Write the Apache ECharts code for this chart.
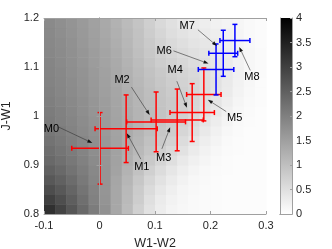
<!DOCTYPE html>
<html><head><meta charset="utf-8">
<script src="https://cdn.jsdelivr.net/npm/echarts@6/dist/echarts.min.js"></script>
<style>html,body{margin:0;padding:0;background:#fff}#c{width:332px;height:249px}</style>
</head><body><div id="c"></div>
<script>
// ---- data ----
const xTicks = [-0.1, 0, 0.1, 0.2, 0.3];
const yTicks = [0.8, 0.9, 1.0, 1.1, 1.2];
const cbTicks = [0, 0.5, 1, 1.5, 2, 2.5, 3, 3.5, 4];
const xTitle = 'W1-W2';
const yTitle = 'J-W1';

// background density (cell centres)
const cellX = [-0.09,-0.07,-0.05,-0.03,-0.01,0.01,0.03,0.05,0.07,0.09,0.11,0.13,0.15,0.17,0.19,0.21,0.23,0.25,0.27,0.29];
const cellY = [0.81,0.83,0.85,0.87,0.89,0.91,0.93,0.95,0.97,0.99,1.01,1.03,1.05,1.07,1.09,1.11,1.13,1.15,1.17,1.19];
const density = [
 [3.25,2.95,2.65,2.35,2.05,1.72,1.38,1.05,0.72,0.45,0.28,0.18,0.12,0.10,0.08,0.06,0.05,0.05,0.04,0.04],
 [3.00,2.78,2.52,2.26,1.98,1.68,1.38,1.08,0.78,0.50,0.32,0.20,0.14,0.10,0.08,0.06,0.05,0.05,0.04,0.04],
 [2.80,2.62,2.42,2.18,1.94,1.66,1.38,1.10,0.82,0.56,0.38,0.25,0.16,0.11,0.08,0.06,0.05,0.05,0.04,0.04],
 [2.62,2.48,2.30,2.10,1.90,1.66,1.40,1.14,0.88,0.64,0.45,0.32,0.20,0.13,0.09,0.07,0.05,0.05,0.04,0.04],
 [2.48,2.36,2.20,2.04,1.86,1.66,1.44,1.20,0.96,0.74,0.55,0.40,0.26,0.17,0.11,0.08,0.06,0.05,0.04,0.04],
 [2.36,2.25,2.12,1.98,1.82,1.65,1.46,1.25,1.04,0.84,0.66,0.50,0.35,0.23,0.15,0.10,0.07,0.05,0.04,0.04],
 [2.27,2.17,2.05,1.93,1.78,1.63,1.46,1.28,1.10,0.92,0.76,0.60,0.45,0.31,0.20,0.13,0.08,0.06,0.05,0.04],
 [2.20,2.10,1.99,1.88,1.75,1.61,1.46,1.30,1.14,0.98,0.84,0.70,0.55,0.40,0.27,0.17,0.10,0.07,0.05,0.04],
 [2.14,2.05,1.95,1.84,1.72,1.59,1.45,1.31,1.17,1.03,0.90,0.78,0.64,0.50,0.35,0.22,0.13,0.08,0.05,0.04],
 [2.09,2.00,1.91,1.81,1.70,1.57,1.44,1.31,1.18,1.05,0.93,0.82,0.71,0.58,0.43,0.29,0.17,0.10,0.06,0.05],
 [2.05,1.97,1.88,1.78,1.67,1.55,1.43,1.30,1.17,1.05,0.94,0.84,0.74,0.63,0.50,0.36,0.22,0.13,0.08,0.05],
 [2.01,1.93,1.85,1.75,1.65,1.53,1.41,1.28,1.16,1.04,0.93,0.84,0.75,0.65,0.54,0.41,0.27,0.16,0.09,0.06],
 [1.98,1.90,1.82,1.73,1.62,1.51,1.39,1.26,1.14,1.02,0.91,0.82,0.74,0.65,0.55,0.44,0.31,0.19,0.11,0.07],
 [1.95,1.88,1.80,1.71,1.60,1.49,1.37,1.24,1.11,0.99,0.88,0.79,0.71,0.63,0.54,0.45,0.33,0.21,0.12,0.07],
 [1.93,1.86,1.78,1.69,1.58,1.47,1.35,1.22,1.08,0.95,0.84,0.75,0.67,0.59,0.51,0.43,0.33,0.22,0.13,0.08],
 [1.91,1.84,1.76,1.67,1.56,1.45,1.33,1.19,1.05,0.91,0.79,0.70,0.62,0.54,0.47,0.40,0.31,0.21,0.13,0.08],
 [1.89,1.82,1.74,1.65,1.54,1.43,1.30,1.16,1.01,0.87,0.74,0.64,0.56,0.49,0.42,0.36,0.28,0.20,0.12,0.08],
 [1.87,1.80,1.72,1.62,1.51,1.40,1.27,1.13,0.98,0.83,0.69,0.58,0.50,0.43,0.37,0.31,0.25,0.18,0.11,0.07],
 [1.85,1.78,1.70,1.60,1.49,1.37,1.24,1.10,0.95,0.79,0.64,0.52,0.44,0.37,0.32,0.27,0.22,0.16,0.10,0.07],
 [1.83,1.76,1.68,1.58,1.47,1.35,1.21,1.07,0.92,0.75,0.60,0.48,0.38,0.31,0.26,0.22,0.18,0.14,0.09,0.06]
];

// error-bar points
const redNames = ['M0','M1','M2','M3','M4','M5'];
const redX     = [0.001, 0.048, 0.102, 0.140, 0.167, 0.188];
const redY     = [0.934, 0.974, 0.988, 0.992, 1.007, 1.044];
const redXErr  = [0.051, 0.056, 0.053, 0.047, 0.040, 0.031];
const redYErr  = [0.073, 0.069, 0.061, 0.063, 0.059, 0.054];
const blueNames = ['M6','M7','M8'];
const blueX     = [0.210, 0.223, 0.244];
const blueY     = [1.095, 1.128, 1.154];
const blueXErr  = [0.032, 0.026, 0.027];
const blueYErr  = [0.052, 0.047, 0.033];

// annotations (data coordinates)
const annNames = ['M0','M1','M2','M3','M4','M5','M6','M7','M8'];
const annTextX = [-0.0865, 0.0763, 0.0407, 0.1156, 0.1364, 0.2437, 0.1165, 0.1580, 0.2747];
const annTextY = [0.974, 0.897, 1.073, 0.914, 1.093, 0.996, 1.133, 1.184, 1.080];
const annFromX = [-0.0729, 0.0745, 0.0575, 0.1124, 0.1394, 0.2284, 0.1333, 0.1773, 0.2717];
const annFromY = [0.977, 0.912, 1.059, 0.933, 1.071, 1.009, 1.133, 1.176, 1.093];
const annToX   = [-0.0129, 0.0492, 0.0904, 0.1273, 0.1575, 0.1953, 0.1964, 0.2116, 0.2518];
const annToY   = [0.945, 0.965, 1.002, 0.977, 1.017, 1.033, 1.107, 1.143, 1.141];

// ---- build ----
const FONT = 'Liberation Sans, Arial, Helvetica, sans-serif';
const dx = cellX[1] - cellX[0], dy = cellY[1] - cellY[0];
const cellData = [];
density.forEach((row, j) => row.forEach((v, i) => cellData.push([cellX[i], cellY[j], v])));

function errBarSeries(xs, ys, exs, eys, color) {
  return {
    type: 'custom', xAxisIndex: 0, yAxisIndex: 0, z: 5, clip: false,
    data: xs.map((x, i) => [x, ys[i], exs[i], eys[i]]),
    encode: { x: 0, y: 1 },
    renderItem: (params, api) => {
      const x = api.value(0), y = api.value(1), ex = api.value(2), ey = api.value(3);
      const t = api.coord([x, y + ey]), b = api.coord([x, y - ey]);
      const l = api.coord([x - ex, y]), r = api.coord([x + ex, y]);
      const cap = 2.5;
      const st = { stroke: color, lineWidth: 1.5 };
      const ln = (x1, y1, x2, y2) => ({ type: 'line', shape: { x1, y1, x2, y2 }, style: st });
      return { type: 'group', children: [
        ln(t[0], t[1], b[0], b[1]),
        ln(t[0] - cap, t[1], t[0] + cap, t[1]),
        ln(b[0] - cap, b[1], b[0] + cap, b[1]),
        ln(l[0], l[1], r[0], r[1]),
        ln(l[0], l[1] - cap, l[0], l[1] + cap),
        ln(r[0], r[1] - cap, r[0], r[1] + cap)
      ]};
    }
  };
}

const annData = annNames.map((n, i) => [annTextX[i], annTextY[i], annFromX[i], annFromY[i], annToX[i], annToY[i]]);

const axLine = { show: true, lineStyle: { color: '#a0a0a0', width: 1 } };
const axTick = { show: true, inside: true, length: 3, lineStyle: { color: '#a0a0a0', width: 1 } };
const lab = { fontSize: 11, color: '#262626', fontFamily: FONT };

const option = {
  animation: false,
  backgroundColor: '#fff',
  textStyle: { fontFamily: FONT },
  grid: [
    { left: 44, top: 18, width: 222, height: 196, containLabel: false, outerBoundsMode: 'none' },
    { left: 280, top: 18, width: 12, height: 196, containLabel: false, outerBoundsMode: 'none' }
  ],
  visualMap: {
    type: 'continuous', show: false, min: 0, max: 4, dimension: 2, seriesIndex: 0,
    inRange: { color: ['#ffffff', '#000000'] }
  },
  xAxis: [
    { gridIndex: 0, type: 'value', position: 'bottom', min: xTicks[0], max: xTicks[xTicks.length-1], interval: 0.1,
      axisLine: axLine, axisTick: axTick, splitLine: { show: false }, z: 10,
      axisLabel: Object.assign({ margin: 6 }, lab),
      name: xTitle, nameLocation: 'middle', nameGap: 23,
      nameTextStyle: { fontSize: 12.5, color: '#262626', fontFamily: FONT } },
    { gridIndex: 0, type: 'value', position: 'top', min: xTicks[0], max: xTicks[xTicks.length-1], interval: 0.1,
      axisLine: axLine, axisTick: axTick, axisLabel: { show: false }, splitLine: { show: false }, z: 10 },
    { gridIndex: 1, type: 'category', data: ['c'], position: 'bottom', axisLine: axLine,
      axisTick: { show: false }, axisLabel: { show: false }, z: 10 },
    { gridIndex: 1, type: 'category', data: ['c'], position: 'top', axisLine: axLine,
      axisTick: { show: false }, axisLabel: { show: false }, z: 10 }
  ],
  yAxis: [
    { gridIndex: 0, type: 'value', position: 'left', min: yTicks[0], max: yTicks[yTicks.length-1], interval: 0.1,
      axisLine: axLine, axisTick: axTick, splitLine: { show: false }, z: 10,
      axisLabel: Object.assign({ margin: 5 }, lab),
      name: yTitle, nameLocation: 'middle', nameGap: 22, nameRotate: 90,
      nameTextStyle: { fontSize: 12.5, color: '#262626', fontFamily: FONT } },
    { gridIndex: 0, type: 'value', position: 'right', min: yTicks[0], max: yTicks[yTicks.length-1], interval: 0.1,
      axisLine: axLine, axisTick: axTick, axisLabel: { show: false }, splitLine: { show: false }, z: 10 },
    { gridIndex: 1, type: 'value', position: 'right', min: cbTicks[0], max: cbTicks[cbTicks.length-1], interval: 0.5,
      axisLine: axLine, axisTick: { show: true, inside: true, length: 2, lineStyle: { color: '#a0a0a0' } },
      axisLabel: Object.assign({ margin: 4 }, lab), splitLine: { show: false }, z: 10 },
    { gridIndex: 1, type: 'value', position: 'left', min: cbTicks[0], max: cbTicks[cbTicks.length-1], interval: 0.5,
      axisLine: axLine, axisTick: { show: false }, axisLabel: { show: false }, splitLine: { show: false }, z: 10 }
  ],
  series: [
    { type: 'custom', xAxisIndex: 0, yAxisIndex: 0, z: 1, data: cellData, encode: { x: 0, y: 1 },
      renderItem: (params, api) => {
        const x = api.value(0), y = api.value(1);
        const p0 = api.coord([x - dx / 2, y + dy / 2]);
        const p1 = api.coord([x + dx / 2, y - dy / 2]);
        return { type: 'rect', shape: { x: p0[0], y: p0[1], width: p1[0] - p0[0] + 0.6, height: p1[1] - p0[1] + 0.6 },
                 style: { fill: api.visual('color') } };
      } },
    errBarSeries(redX, redY, redXErr, redYErr, '#ff0000'),
    errBarSeries(blueX, blueY, blueXErr, blueYErr, '#0000ff'),
    { type: 'custom', xAxisIndex: 0, yAxisIndex: 0, z: 8, clip: false, data: annData,
      encode: { x: 0, y: 1 },
      renderItem: (params, api) => {
        const i = params.dataIndex;
        const tp = api.coord([api.value(0), api.value(1)]);
        const f = api.coord([api.value(2), api.value(3)]);
        const e = api.coord([api.value(4), api.value(5)]);
        const vx = e[0] - f[0], vy = e[1] - f[1];
        const L = Math.sqrt(vx * vx + vy * vy) || 1;
        const ux = vx / L, uy = vy / L, hl = 5, hw = 1.8;
        const bx = e[0] - ux * hl, by = e[1] - uy * hl;
        return { type: 'group', children: [
          { type: 'line', shape: { x1: f[0], y1: f[1], x2: bx, y2: by }, style: { stroke: '#333', lineWidth: 0.6 } },
          { type: 'polygon', shape: { points: [[e[0], e[1]], [bx - uy * hw, by + ux * hw], [bx + uy * hw, by - ux * hw]] },
            style: { fill: '#111' } },
          { type: 'text', style: { text: annNames[i], x: tp[0], y: tp[1], align: 'center', verticalAlign: 'middle',
            fontSize: 11, fontFamily: FONT, fill: '#000' } }
        ]};
      } },
    { type: 'bar', xAxisIndex: 2, yAxisIndex: 2, data: [cbTicks[cbTicks.length-1]], barWidth: '100%', z: 1,
      itemStyle: { color: new echarts.graphic.LinearGradient(0, 0, 0, 1, [
        { offset: 0, color: '#000000' }, { offset: 1, color: '#ffffff' }]) } }
  ]
};
echarts.init(document.getElementById('c'), null, { renderer: 'canvas' }).setOption(option);
</script></body></html>
